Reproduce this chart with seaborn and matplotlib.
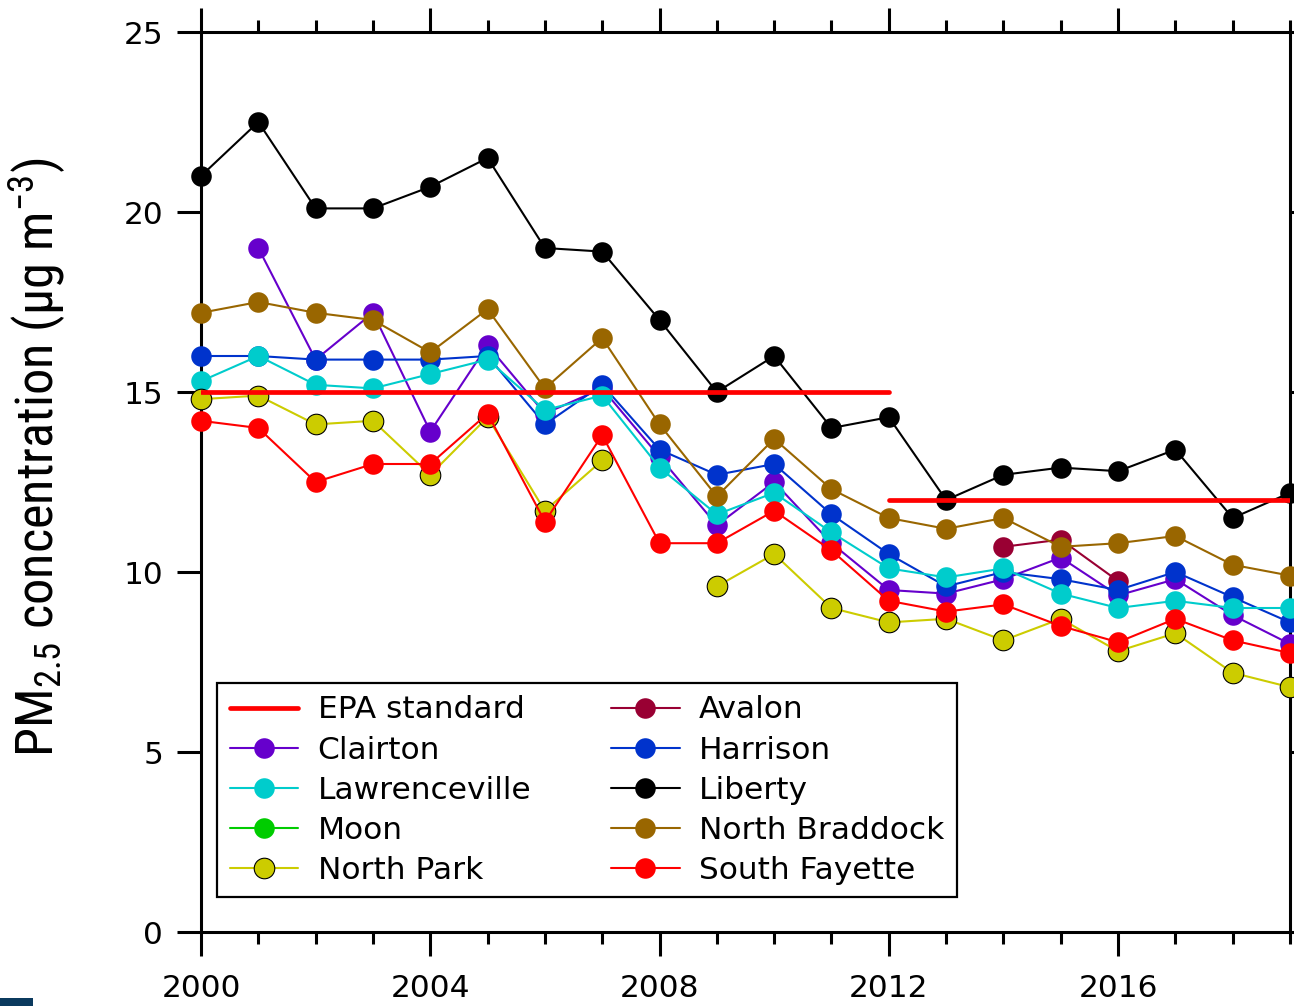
import numpy as np
import pandas as pd
import matplotlib
matplotlib.use("Agg")
import matplotlib.pyplot as plt
from matplotlib.lines import Line2D
from matplotlib.patches import Rectangle
from matplotlib.ticker import MultipleLocator
import seaborn as sns

nan = np.nan

# Annual mean PM2.5 by monitoring site (µg m-3)
years = list(range(2000, 2020))

clairton = [nan, 19.0, 15.9, 17.2, 13.9, 16.3, 14.4, 15.1, 13.2, 11.3,
            12.5, 10.8, 9.5, 9.4, 9.8, 10.4, 9.35, 9.8, 8.8, 8.0]
lawrenceville = [15.3, 16.0, 15.2, 15.1, 15.5, 15.9, 14.5, 14.9, 12.9, 11.6,
                 12.2, 11.1, 10.1, 9.85, 10.1, 9.4, 9.0, 9.2, 9.0, 9.0]
moon = [nan] * 20
north_park = [14.8, 14.9, 14.1, 14.2, 12.7, 14.3, 11.7, 13.1, nan, 9.6,
              10.5, 9.0, 8.6, 8.7, 8.1, 8.7, 7.8, 8.3, 7.2, 6.8]
avalon = [nan] * 14 + [10.7, 10.9, 9.75, nan, nan, nan]
harrison = [16.0, 16.0, 15.9, 15.9, 15.9, 16.0, 14.1, 15.2, 13.4, 12.7,
            13.0, 11.6, 10.5, 9.6, 10.0, 9.8, 9.5, 10.0, 9.3, 8.6]
liberty = [21.0, 22.5, 20.1, 20.1, 20.7, 21.5, 19.0, 18.9, 17.0, 15.0,
           16.0, 14.0, 14.3, 12.0, 12.7, 12.9, 12.8, 13.4, 11.5, 12.2]
north_braddock = [17.2, 17.5, 17.2, 17.0, 16.1, 17.3, 15.1, 16.5, 14.1, 12.1,
                  13.7, 12.3, 11.5, 11.2, 11.5, 10.7, 10.8, 11.0, 10.2, 9.9]
south_fayette = [14.2, 14.0, 12.5, 13.0, 13.0, 14.4, 11.4, 13.8, 10.8, 10.8,
                 11.7, 10.6, 9.2, 8.9, 9.1, 8.5, 8.05, 8.7, 8.1, 7.75]

# EPA annual standard: 15 until 2012, 12 afterwards
epa_start = [2000, 2012]
epa_end = [2012, 2019]
epa_level = [15, 12]

site_values = {
    "Clairton": clairton,
    "Lawrenceville": lawrenceville,
    "Moon": moon,
    "North Park": north_park,
    "Avalon": avalon,
    "Harrison": harrison,
    "Liberty": liberty,
    "North Braddock": north_braddock,
    "South Fayette": south_fayette,
}
site_colors = {
    "Clairton": "#6600CC",
    "Lawrenceville": "#00CCCC",
    "Moon": "#00CC00",
    "North Park": "#CCCC00",
    "Avalon": "#990033",
    "Harrison": "#0033CC",
    "Liberty": "#000000",
    "North Braddock": "#996600",
    "South Fayette": "#FF0000",
}
legend_order = ["Clairton", "Lawrenceville", "Moon", "North Park", "Avalon",
                "Harrison", "Liberty", "North Braddock", "South Fayette"]
draw_order = ["Moon", "Clairton", "Avalon", "Harrison", "Lawrenceville",
              "North Park", "South Fayette", "North Braddock", "Liberty"]

sns.set_style("white")
plt.rcParams["font.family"] = ["DejaVu Sans"]
plt.rcParams["mathtext.default"] = "regular"
plt.rcParams["text.color"] = "black"

fig = plt.figure(figsize=(12.94, 10.06), dpi=100)
ax = fig.add_axes([201 / 1294, 74 / 1006, 1089 / 1294, 900 / 1006])

MS = 14.8
LW = 1.5


def marker_style(name):
    if name == "North Park":
        return dict(markeredgecolor="black", markeredgewidth=0.8)
    return dict(markeredgecolor=site_colors[name], markeredgewidth=0)


for z, name in enumerate(draw_order):
    vals = np.asarray(site_values[name], dtype=float)
    df = pd.DataFrame({"year": years, "pm": vals,
                       "run": np.cumsum(np.isnan(vals))}).dropna()
    if df.empty:
        continue
    sns.lineplot(data=df, x="year", y="pm", units="run", estimator=None,
                 color=site_colors[name], lw=LW, marker="o", markersize=MS,
                 clip_on=False, legend=False, ax=ax, zorder=3 + z,
                 **marker_style(name))

for x0, x1, lvl in zip(epa_start, epa_end, epa_level):
    sns.lineplot(x=[x0, x1], y=[lvl, lvl], color="#FF0000", lw=3.4,
                 legend=False, ax=ax, zorder=20)

ax.set_xlim(2000, 2019)
ax.set_ylim(0, 25)
ax.xaxis.set_major_locator(MultipleLocator(4))
ax.xaxis.set_minor_locator(MultipleLocator(1))
ax.yaxis.set_major_locator(MultipleLocator(5))

for side in ["left", "right", "top", "bottom"]:
    ax.spines[side].set_visible(True)
    ax.spines[side].set_color("black")
    ax.spines[side].set_linewidth(2.2)

ax.tick_params(axis="x", which="both", direction="out", top=True, bottom=True,
               width=2.2, color="black", labelcolor="black", labelsize=22.5)
ax.tick_params(axis="x", which="major", length=17.3, pad=13)
ax.tick_params(axis="x", which="minor", length=8.6)
ax.tick_params(axis="y", which="major", direction="out", left=True, right=True,
               length=17.3, width=2.2, color="black", labelcolor="black",
               labelsize=22.5, pad=10)

ax.set_xlabel("")
ax.set_ylabel(r"PM$_{2.5}$ concentration (µg m$^{-3}$)", fontsize=37.7,
              family=["Roboto Condensed", "Liberation Sans Narrow", "Liberation Sans"],
              color="black")
ax.yaxis.set_label_coords(-0.122, 0.527)

handles = [Line2D([], [], color="#FF0000", lw=3.4)]
labels = ["EPA standard"]
for name in legend_order:
    handles.append(Line2D([], [], color=site_colors[name], lw=LW, marker="o",
                          markersize=MS, markerfacecolor=site_colors[name],
                          **marker_style(name)))
    labels.append(name)

leg = ax.legend(handles, labels, ncol=2, loc="upper left",
                bbox_to_anchor=(0.0147, (932 - 683) / 900), borderaxespad=0,
                frameon=True, fancybox=False, edgecolor="black", framealpha=1,
                prop={"family": ["DejaVu Sans"], "size": 22.5},
                handlelength=2.2, handletextpad=0.62, labelspacing=0.355,
                borderpad=0.4, columnspacing=2.55)
leg.get_frame().set_linewidth(1.6)
leg.set_zorder(30)
for txt in leg.get_texts():
    txt.set_color("black")

fig.patches.append(Rectangle((0, 0), 33 / 1294, 8 / 1006, transform=fig.transFigure,
                             facecolor="#0B3A5E", edgecolor="none"))

fig.savefig("out.png", dpi=100)
